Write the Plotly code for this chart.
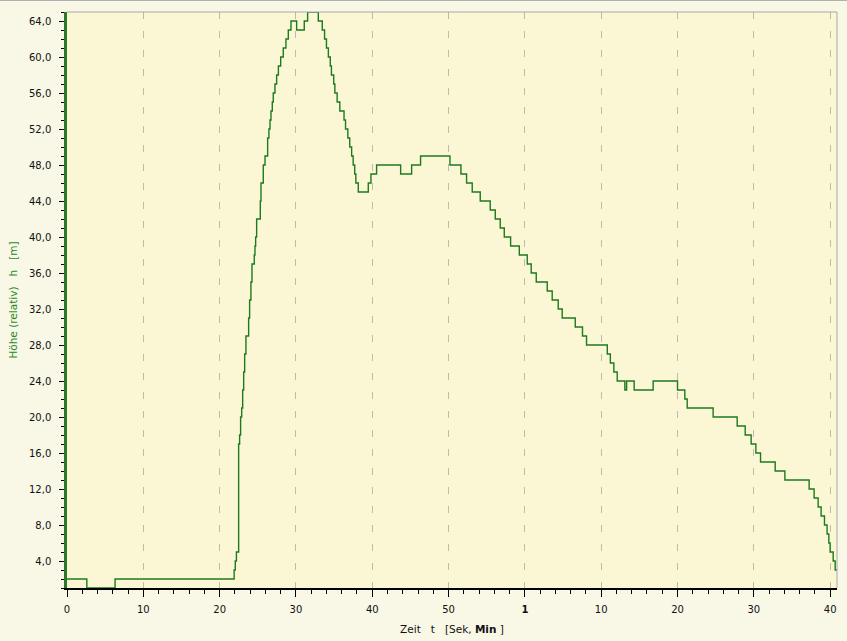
import plotly.graph_objects as go

# Step-series: time (s) at which each level starts, and height level (m)
t_sec = [0, 2.6, 6.3, 21.9, 22.05, 22.2, 22.49, 22.62, 22.75, 22.89, 23.02, 23.15, 23.28, 23.45,
         23.8, 23.93, 24.1, 24.24, 24.54, 24.63, 24.72, 24.85, 25.33, 25.42, 25.72, 25.95, 26.29,
         26.46, 26.6, 26.73, 26.9, 27.03, 27.25, 27.47, 27.7, 28.0, 28.34, 28.69, 29.0, 29.35,
         30.09, 31.09, 31.53, 32.93, 33.45, 33.75, 34.0, 34.25, 34.5, 34.65, 34.95, 35.1, 35.4,
         35.75, 36.3, 36.5, 36.8, 37.05, 37.3, 37.5, 37.7, 37.85, 38.17, 39.48, 39.83, 40.57,
         43.72, 45.16, 46.33, 50.18, 51.62, 52.36, 53.1, 54.15, 55.46, 56.12, 56.77, 57.3, 58.13,
         59.27, 60.31, 60.83, 61.49, 62.93, 63.58, 64.37, 64.89, 66.6, 67.55, 68.08, 70.8, 71.2,
         71.66, 72.1, 73.1, 73.33, 74.32, 76.81, 80.0, 80.96, 81.27, 84.67, 87.82, 88.87, 89.65,
         90.27, 90.88, 92.8, 94.07, 97.25, 97.9, 98.43, 98.82, 99.26, 99.6, 99.83, 100.0, 100.4,
         100.66, 100.97]
h_m = [2, 1, 2, 3, 4, 5, 17, 18, 20, 21, 23, 25, 27, 29,
       31, 33, 35, 37, 38, 39, 40, 42, 44, 46, 48, 49, 51,
       52, 53, 54, 55, 56, 57, 58, 59, 60, 61, 62, 63, 64,
       63, 64, 65, 64, 63, 62, 61, 60, 59, 58, 57, 56, 55,
       54, 53, 52, 51, 50, 49, 48, 47, 46, 45, 46, 47, 48,
       47, 48, 49, 48, 47, 46, 45, 44, 43, 42, 41, 40, 39,
       38, 37, 36, 35, 34, 33, 32, 31, 30, 29, 28, 27, 26,
       25, 24, 23, 24, 23, 24, 23, 22, 21, 20, 19, 18, 17,
       16, 15, 14, 13, 12, 11, 10, 9, 8, 7, 6, 5, 4,
       3, 3]

x_tickvals = [0, 10, 20, 30, 40, 50, 60, 70, 80, 90, 100]
x_ticktext = ["0", "10", "20", "30", "40", "50", "<b>1</b>", "10", "20", "30", "40"]
y_tickvals = [4, 8, 12, 16, 20, 24, 28, 32, 36, 40, 44, 48, 52, 56, 60, 64]
y_ticktext = ["4,0", "8,0", "12,0", "16,0", "20,0", "24,0", "28,0", "32,0", "36,0", "40,0",
              "44,0", "48,0", "52,0", "56,0", "60,0", "64,0"]

FONT = "DejaVu Sans"
GREEN = "#1e7a1e"

fig = go.Figure()
fig.add_trace(go.Scatter(x=t_sec, y=h_m, mode="lines", line=dict(color=GREEN, width=1.4, shape="hv"),
                         showlegend=False, hoverinfo="skip"))

W, H = 847, 641
ml, mr, mt, mb = 67, 10, 12, 53
pw, ph = W - ml - mr, H - mt - mb

fig.update_layout(
    width=W, height=H,
    margin=dict(l=ml, r=mr, t=mt, b=mb, pad=0, autoexpand=False),
    paper_bgcolor="#f9f7e6",
    plot_bgcolor="#fbf7d4",
    font=dict(family=FONT, size=10, color="#111111"),
    xaxis=dict(
        range=[0, 100.9], tickmode="array", tickvals=x_tickvals, ticktext=x_ticktext,
        automargin=False,
        ticks="outside", ticklen=7, tickcolor="#000000", tickwidth=1,
        showline=True, linecolor="#000000", linewidth=2,
        showgrid=True, gridcolor="#bdbab0", gridwidth=1, griddash="7px,12px",
        zeroline=False,
        minor=dict(tickmode="linear", tick0=0, dtick=2, ticks="outside", ticklen=4,
                   tickcolor="#000000", showgrid=False),
        tickfont=dict(family=FONT, size=10, color="#111111"),
        ticklabelstandoff=4,
        title=dict(text="Zeit\u00a0\u00a0\u00a0t\u00a0\u00a0\u00a0[Sek,\u00a0<b>Min</b>\u00a0]",
                   font=dict(family=FONT, size=10.5, color="#111111"), standoff=12),
    ),
    yaxis=dict(
        range=[1, 65], tickmode="array", tickvals=y_tickvals, ticktext=y_ticktext,
        automargin=False,
        ticks="outside", ticklen=5, tickcolor="#000000", tickwidth=1,
        showline=True, linecolor="#2a7a2a", linewidth=2.5,
        showgrid=False, zeroline=False,
        minor=dict(tickmode="linear", tick0=0, dtick=1, ticks="outside", ticklen=3,
                   tickcolor="#000000", showgrid=False),
        tickfont=dict(family=FONT, size=10, color="#111111"),
        ticklabelstandoff=6,
        title=dict(text="Höhe\u00a0(relativ)\u00a0\u00a0\u00a0h\u00a0\u00a0\u00a0[m]",
                   font=dict(family=FONT, size=10.5, color="#2a8a2a"), standoff=10),
    ),
    shapes=[
        dict(type="line", xref="paper", yref="paper", x0=0, x1=1, y0=1, y1=1,
             line=dict(color="#a8a8a8", width=1)),
        dict(type="line", xref="paper", yref="paper", x0=1, x1=1, y0=0, y1=1,
             line=dict(color="#a8a8a8", width=1)),
        dict(type="line", xref="paper", yref="paper", x0=-ml / pw, x1=1 + mr / pw,
             y0=1 + (mt - 0.5) / ph, y1=1 + (mt - 0.5) / ph,
             line=dict(color="#b0b0b0", width=1)),
    ],
)

fig.write_html("out.html", config={"displayModeBar": False},
               post_script="document.body.style.margin='0px';document.body.style.overflow='hidden';")
